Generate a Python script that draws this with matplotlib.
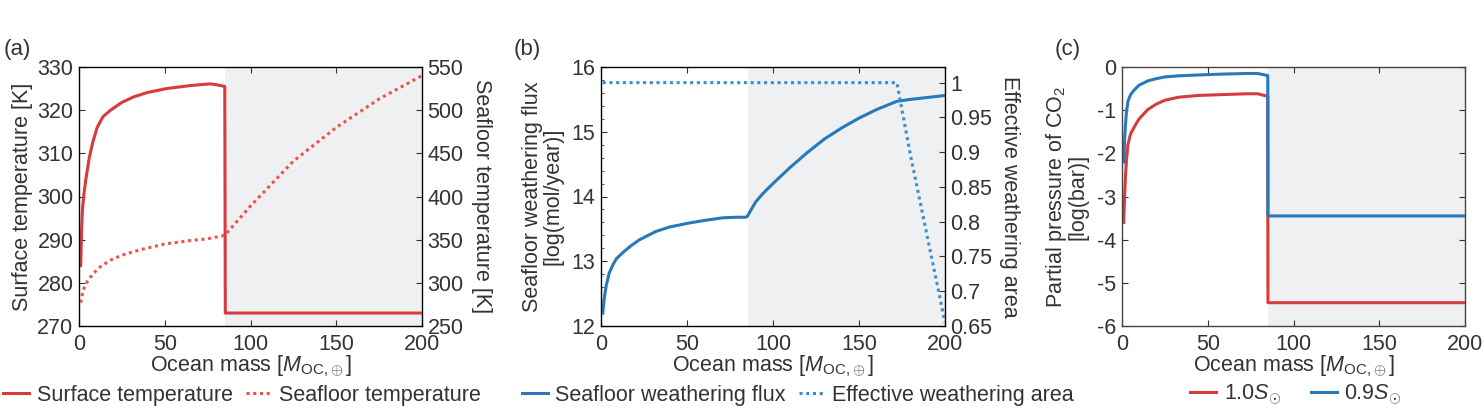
import numpy as np
import matplotlib
matplotlib.use("Agg")
import matplotlib.pyplot as plt
from matplotlib.ticker import MultipleLocator

plt.rcParams['font.family'] = ['Liberation Sans', 'DejaVu Sans']
plt.rcParams['mathtext.fontset'] = 'custom'
plt.rcParams['mathtext.rm'] = 'Liberation Sans'
plt.rcParams['mathtext.it'] = 'Liberation Sans:italic'
FS = 15.5
plt.rcParams['font.size'] = FS
TXT = '#333333'
plt.rcParams['text.color'] = TXT
plt.rcParams['axes.labelcolor'] = TXT
plt.rcParams['xtick.color'] = TXT
plt.rcParams['ytick.color'] = TXT

RED = '#d63b3e'
RED_DOT = '#f0524a'
BLUE = '#2679bb'
BLUE_DOT = '#3a8fd0'
SHADE = '#eef0f1'

# ---------------- data ----------------
shade_start = 85.3

# panel (a)
mass_a = [1, 1.5, 2, 3, 4, 6, 8, 10.6, 14, 18.4, 25, 32, 40, 51, 65, 76.5, 80, 85, 85.3, 100, 150, 200]
surface_temp = [284, 292, 297, 301, 304, 309, 312.5, 316, 318.5, 320, 321.8, 323.1, 324.1, 325, 325.7, 326.1, 325.9, 325.5, 273, 273, 273, 273]
mass_sf = [1, 2, 3, 5, 8, 12, 18, 25, 35, 50, 65, 75, 85, 100, 125, 150, 175, 200]
seafloor_temp = [277, 287, 294, 302, 310, 318, 326, 332, 338, 345, 349, 351, 355, 389, 441, 480, 513, 540]

# panel (b)
mass_b = [1, 2, 3, 4.8, 7, 9, 12.5, 17, 22.2, 31.9, 40, 51.2, 60, 70.5, 78.3, 84, 85, 90, 95, 100, 110, 120, 130, 140, 150, 160, 172, 180, 190, 200]
weathering_flux = [12.2, 12.45, 12.62, 12.82, 12.95, 13.04, 13.13, 13.23, 13.33, 13.46, 13.53, 13.59, 13.63, 13.67, 13.68, 13.68, 13.69, 13.92, 14.07, 14.2, 14.45, 14.68, 14.89, 15.06, 15.21, 15.34, 15.47, 15.5, 15.53, 15.56]
mass_area = [1, 50, 100, 150, 172, 180, 190, 200]
effective_area = [1.0, 1.0, 1.0, 1.0, 1.0, 0.895, 0.775, 0.655]

# panel (c)
mass_c = [1, 1.5, 2, 2.7, 3.5, 5, 7.4, 10, 15.2, 20, 25, 33, 44, 58, 73, 79, 84, 85, 85.1, 200]
pco2_10 = [-3.6, -3.0, -2.55, -2.1, -1.79, -1.55, -1.37, -1.2, -0.98, -0.86, -0.77, -0.7, -0.66, -0.64, -0.62, -0.62, -0.67, -0.68, -5.46, -5.46]
pco2_09 = [-2.2, -1.7, -1.35, -1.0, -0.79, -0.64, -0.52, -0.42, -0.32, -0.27, -0.23, -0.205, -0.185, -0.165, -0.15, -0.15, -0.19, -0.2, -3.45, -3.45]

xticks = [0, 50, 100, 150, 200]
xlabel = r'Ocean mass [$M_{\mathrm{OC},\!\oplus}$]'

fig = plt.figure(figsize=(14.84, 4.08), dpi=100)
W, H = 1484, 408

def make_ax(l, r, t, b):
    return fig.add_axes([l / W, 1 - b / H, (r - l) / W, (b - t) / H])

def style(ax):
    ax.tick_params(direction='in', length=4, width=0.8, top=True, right=True, pad=4)
    ax.tick_params(axis='x', pad=6)
    for s in ax.spines.values():
        s.set_color('#444444')
        s.set_linewidth(1.0)
    ax.set_xlim(0, 200)
    ax.set_xticks(xticks)
    ax.axvspan(shade_start, 200, color=SHADE, zorder=0, lw=0)
    ax.set_xlabel(xlabel, labelpad=-1)

leg_kw = dict(loc='center', ncol=2, frameon=False, handlelength=1.2,
              handletextpad=0.35, fontsize=FS, borderpad=0, borderaxespad=0)

# ---------- (a) ----------
axa = make_ax(79, 422, 67, 326)
style(axa)
axa.set_ylim(270, 330)
axa.set_yticks(range(270, 331, 10))
axa.set_ylabel('Surface temperature [K]', labelpad=3)
l1, = axa.plot(mass_a, surface_temp, color=RED, lw=2.2)
axa2 = axa.twinx()
axa2.set_ylim(250, 550)
axa2.set_yticks(range(250, 551, 50))
axa2.tick_params(direction='in', length=4, width=0.8, pad=4)
axa2.set_ylabel('Seafloor temperature [K]', rotation=270, labelpad=20)
l2, = axa2.plot(mass_sf, seafloor_temp, color=RED_DOT, lw=2.2, ls=(0, (1, 1.2)))
fig.legend([l1, l2], ['Surface temperature', 'Seafloor temperature'],
           bbox_to_anchor=(242 / W, 1 - 395 / H), columnspacing=0.6, **leg_kw)
fig.text(17 / W, 1 - 50 / H, '(a)', ha='center', va='center', fontsize=16)

# ---------- (b) ----------
axb = make_ax(601, 945, 67, 326)
style(axb)
axb.set_ylim(12, 16)
axb.set_yticks([12, 13, 14, 15, 16])
axb.yaxis.set_minor_locator(MultipleLocator(0.2))
axb.tick_params(which='minor', direction='in', length=2, width=0.6, left=True, right=False)
axb.set_ylabel('Seafloor weathering flux\n[log(mol/year)]', labelpad=6, linespacing=0.95)
l3, = axb.plot(mass_b, weathering_flux, color=BLUE, lw=2.2)
axb2 = axb.twinx()
axb2.set_ylim(0.65, 1.0225)
axb2.set_yticks([0.65, 0.7, 0.75, 0.8, 0.85, 0.9, 0.95, 1.0])
axb2.set_yticklabels(['0.65', '0.7', '0.75', '0.8', '0.85', '0.9', '0.95', '1'])
axb2.tick_params(direction='in', length=4, width=0.8, pad=4)
axb2.set_ylabel('Effective weathering area', rotation=270, labelpad=20)
l4, = axb2.plot(mass_area, effective_area, color=BLUE_DOT, lw=2.2, ls=(0, (1, 1.2)))
fig.legend([l3, l4], ['Seafloor weathering flux', 'Effective weathering area'],
           bbox_to_anchor=(798 / W, 1 - 395 / H), columnspacing=0.6, **leg_kw)
fig.text(527 / W, 1 - 50 / H, '(b)', ha='center', va='center', fontsize=16)

# ---------- (c) ----------
axc = make_ax(1122, 1465, 67, 326)
style(axc)
axc.set_ylim(-6, 0)
axc.set_yticks(range(-6, 1))
axc.set_yticklabels([str(v) for v in range(-6, 1)])
axc.set_ylabel('Partial pressure of CO$_2$\n[log(bar)]', labelpad=6, linespacing=0.95)
l5, = axc.plot(mass_c, pco2_10, color=RED, lw=2.2)
l6, = axc.plot(mass_c, pco2_09, color=BLUE, lw=2.2)
fig.legend([l5, l6], [r'1.0$S_{\odot}$', r'0.9$S_{\odot}$'],
           bbox_to_anchor=(1296 / W, 1 - 395 / H), columnspacing=1.4, **leg_kw)
fig.text(1068 / W, 1 - 50 / H, '(c)', ha='center', va='center', fontsize=16)

fig.savefig('out.png', dpi=100)
